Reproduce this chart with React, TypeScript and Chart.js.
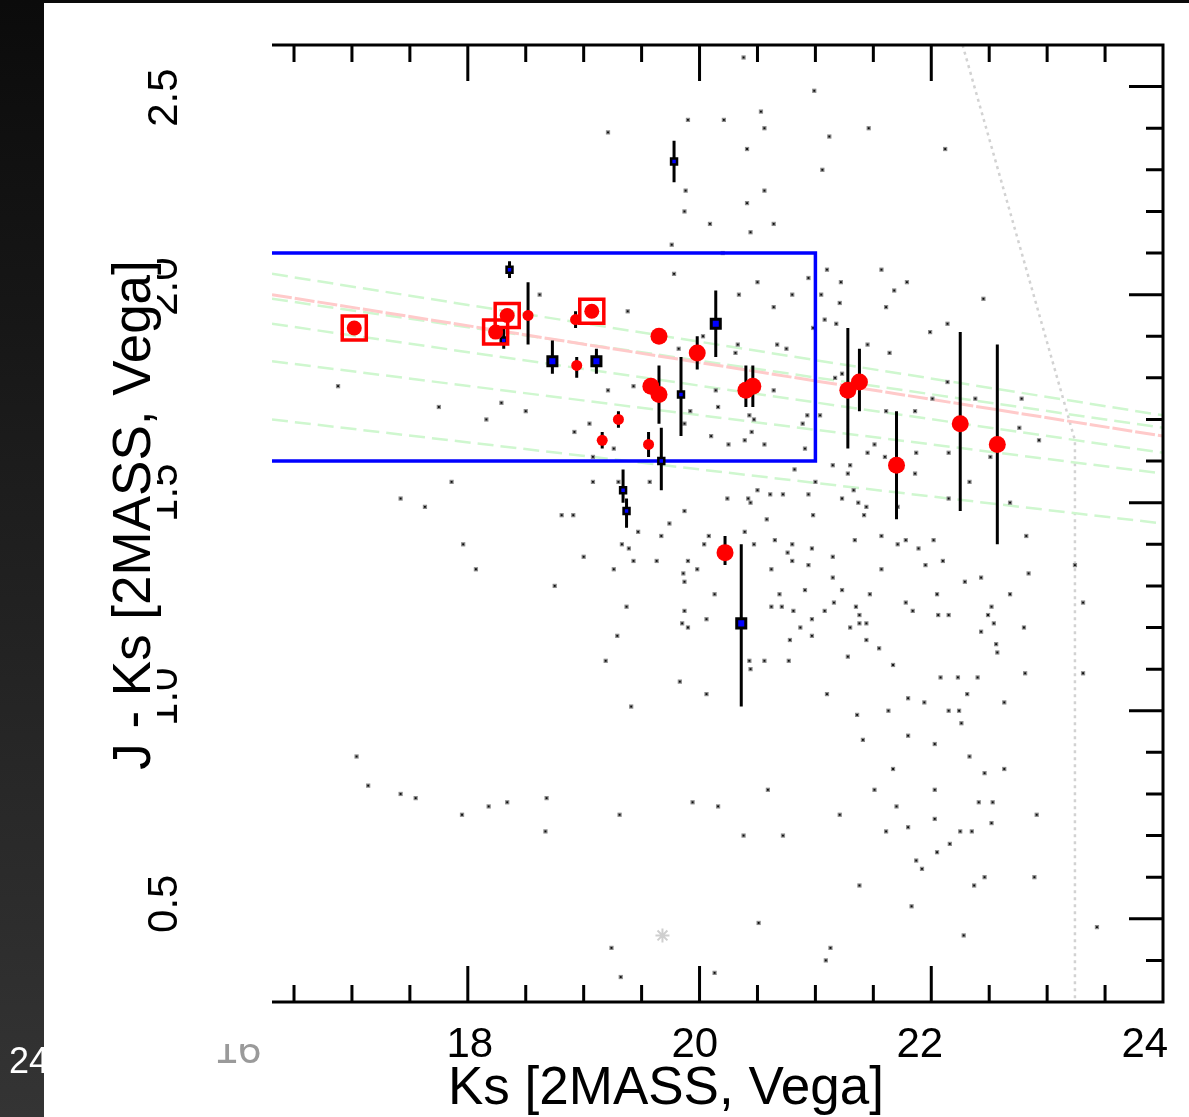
import React, { useEffect, useRef } from "react";
import { Chart, registerables } from "chart.js";

Chart.register(...registerables);

// ---------- axes ----------
const X_MIN = 16.31;
const X_MAX = 24.0;
const Y_MIN = 0.3;
const Y_MAX = 2.6;
const xTickLabels = ["18", "20", "22", "24"];
const yTickLabels = ["2.5", "2.0", "1.5", "1.0", "0.5"];
const xTitle = "Ks [2MASS, Vega]";
const yTitle = "J - Ks [2MASS, Vega]";

// ---------- field sources (Ks, J-Ks) ----------
const fieldStars: [number, number][] = [
  [19.9, 2.42], [19.21, 2.39], [19.88, 2.25], [19.87, 2.2], [20.09, 2.17], [19.76, 2.12],
  [19.78, 2.05], [18.62, 2.0], [19.38, 1.96], [20.03, 1.9], [19.82, 1.87], [16.88, 1.78],
  [17.75, 1.73], [18.29, 1.74], [18.5, 1.72], [18.16, 1.7], [19.21, 1.77], [19.43, 1.78],
  [20.14, 1.77], [20.16, 1.73], [19.05, 1.69], [18.92, 1.67], [19.26, 1.63], [19.92, 1.72],
  [19.87, 1.69], [20.1, 1.66], [19.08, 1.61], [20.38, 2.57], [20.99, 2.49], [20.53, 2.44],
  [20.21, 2.42], [20.56, 2.4], [21.46, 2.4], [21.12, 2.38], [20.41, 2.35], [22.12, 2.35],
  [21.06, 2.3], [20.56, 2.25], [20.41, 2.22], [20.64, 2.17], [20.44, 2.15], [20.2, 2.1],
  [21.1, 2.06], [21.57, 2.06], [20.5, 2.03], [21.22, 2.03], [20.94, 2.04], [21.68, 2.01],
  [21.79, 2.03], [20.34, 2.0], [20.8, 2.0], [21.05, 2.0], [20.64, 1.97], [21.21, 1.98],
  [21.61, 1.97], [22.45, 1.99], [21.08, 1.94], [21.18, 1.93], [22.14, 1.93], [20.98, 1.92],
  [21.99, 1.91], [20.33, 1.88], [20.67, 1.88], [20.75, 1.87], [20.31, 1.86], [21.45, 1.88],
  [21.64, 1.86], [21.23, 1.81], [21.17, 1.8], [22.14, 1.79], [20.64, 1.77], [22.01, 1.75],
  [22.38, 1.75], [22.78, 1.75], [21.86, 1.72], [21.61, 1.72], [20.93, 1.71], [21.04, 1.71],
  [20.43, 1.71], [20.47, 1.7], [20.89, 1.69], [20.45, 1.67], [22.76, 1.68], [22.93, 1.65],
  [20.25, 1.64], [20.39, 1.65], [20.56, 1.64], [20.91, 1.63], [21.51, 1.64], [22.15, 1.62],
  [22.51, 1.61], [21.45, 1.62], [21.87, 1.62], [21.6, 1.61], [20.82, 1.58], [21.15, 1.59],
  [21.3, 1.59], [21.28, 1.57], [21.86, 1.57], [21.0, 1.55], [20.24, 1.51], [20.42, 1.51],
  [20.5, 1.53], [20.61, 1.52], [20.72, 1.52], [20.94, 1.52], [21.33, 1.53], [21.23, 1.51],
  [20.44, 1.5], [21.37, 1.5], [21.44, 1.49], [21.42, 1.47], [21.71, 1.49], [22.15, 1.51],
  [22.33, 1.55], [22.68, 1.5], [20.98, 1.47], [20.58, 1.46], [20.39, 1.43], [20.65, 1.41],
  [20.47, 1.4], [20.8, 1.4], [20.76, 1.38], [20.8, 1.36], [20.97, 1.39], [20.94, 1.35],
  [21.15, 1.37], [20.62, 1.34], [21.34, 1.41], [21.57, 1.42], [21.71, 1.4], [21.78, 1.41],
  [22.02, 1.41], [21.89, 1.39], [21.95, 1.35], [22.1, 1.36], [21.57, 1.34], [22.82, 1.42],
  [23.24, 1.35], [22.84, 1.33], [21.15, 1.32], [22.29, 1.31], [22.43, 1.32], [20.91, 1.29],
  [21.23, 1.29], [20.69, 1.28], [21.47, 1.28], [22.05, 1.28], [22.68, 1.28], [23.31, 1.26],
  [20.62, 1.25], [20.71, 1.25], [20.81, 1.24], [21.08, 1.24], [21.16, 1.26], [21.35, 1.25],
  [21.78, 1.26], [21.84, 1.24], [22.06, 1.23], [22.15, 1.23], [22.52, 1.25], [22.49, 1.23],
  [21.38, 1.23], [20.97, 1.22], [20.87, 1.2], [21.3, 1.2], [21.38, 1.21], [21.44, 1.21],
  [22.54, 1.21], [22.8, 1.2], [22.43, 1.19], [20.78, 1.17], [20.97, 1.18], [21.44, 1.17],
  [22.56, 1.16], [22.57, 1.14], [21.55, 1.15], [21.28, 1.13], [20.43, 1.12], [20.44, 1.1],
  [20.56, 1.12], [20.77, 1.12], [21.67, 1.11], [22.81, 1.09], [23.31, 1.09], [22.08, 1.08],
  [22.23, 1.08], [22.4, 1.08], [21.1, 1.04], [22.31, 1.04], [21.8, 1.03], [21.94, 1.02],
  [22.63, 1.02], [21.36, 0.99], [21.63, 1.0], [22.15, 1.0], [22.24, 1.0], [22.26, 0.97],
  [21.8, 0.94], [21.41, 0.93], [22.03, 0.92], [22.33, 0.89], [21.67, 0.86], [22.63, 0.86],
  [22.46, 0.85], [20.59, 0.81], [21.51, 0.81], [22.03, 0.81], [22.41, 0.78], [22.53, 0.78],
  [20.16, 0.77], [21.7, 0.77], [21.21, 0.75], [22.03, 0.74], [22.52, 0.73], [22.91, 0.75],
  [21.8, 0.72], [21.61, 0.71], [22.25, 0.71], [22.35, 0.71], [20.38, 0.7], [20.72, 0.7],
  [22.16, 0.68], [22.05, 0.66], [21.87, 0.64], [21.92, 0.62], [22.46, 0.6], [22.89, 0.6],
  [21.38, 0.58], [22.37, 0.58], [21.83, 0.53], [20.51, 0.49], [23.43, 0.48], [22.28, 0.46],
  [21.13, 0.43], [21.09, 0.4], [20.13, 0.37], [17.86, 1.55], [17.42, 1.51], [17.63, 1.49],
  [17.96, 1.4], [18.07, 1.34], [18.75, 1.3], [19.08, 1.55], [19.3, 1.55], [19.57, 1.55],
  [18.81, 1.47], [18.91, 1.47], [19.87, 1.48], [19.74, 1.45], [19.47, 1.43], [19.67, 1.42],
  [20.08, 1.42], [20.04, 1.4], [19.33, 1.4], [19.39, 1.39], [19.0, 1.37], [19.43, 1.36],
  [19.63, 1.36], [19.9, 1.36], [19.26, 1.34], [19.86, 1.33], [19.98, 1.34], [19.87, 1.31],
  [20.13, 1.28], [19.37, 1.25], [19.87, 1.24], [20.06, 1.22], [19.85, 1.21], [19.9, 1.2],
  [19.29, 1.18], [19.19, 1.12], [19.83, 1.07], [20.06, 1.04], [19.41, 1.01], [17.04, 0.89],
  [17.14, 0.82], [17.42, 0.8], [17.55, 0.79], [17.95, 0.75], [18.18, 0.77], [18.34, 0.78],
  [18.68, 0.79], [18.67, 0.71], [19.31, 0.75], [19.94, 0.78], [19.24, 0.43], [19.32, 0.36],
];
const ghostKs = [19.68];
const ghostJK = [0.46];

// ---------- candidates ----------
const redKs = [19.65, 19.58, 19.65, 19.98, 20.4, 20.46, 20.22, 21.28, 21.38, 21.7, 22.25, 22.57];
const redJK = [1.9, 1.78, 1.76, 1.86, 1.77, 1.78, 1.38, 1.77, 1.79, 1.59, 1.69, 1.64];
const redSmallKs = [18.52, 18.93, 18.94, 19.3, 19.16, 19.56];
const redSmallJK = [1.95, 1.94, 1.83, 1.7, 1.65, 1.64];
const boxedKs = [17.02, 18.24, 18.34, 19.07];
const boxedJK = [1.92, 1.91, 1.95, 1.96];
const blueKs = [18.73, 19.11, 20.14, 20.36];
const blueJK = [1.84, 1.84, 1.93, 1.21];
const blueSmallKs = [18.36, 18.31, 19.84, 19.67, 19.34, 19.37, 19.78];
const blueSmallJK = [2.06, 1.89, 1.76, 1.6, 1.53, 1.48, 2.32];

// error bars: [Ks, J-Ks low, J-Ks high]
const errorBars: [number, number, number][] = [
  [18.52, 1.88, 2.03], [18.93, 1.92, 1.96], [18.94, 1.8, 1.85], [19.3, 1.68, 1.72],
  [19.16, 1.63, 1.67], [19.56, 1.61, 1.67], [19.65, 1.69, 1.83], [19.98, 1.82, 1.9],
  [20.4, 1.73, 1.83], [20.46, 1.73, 1.83], [20.22, 1.35, 1.42], [21.28, 1.63, 1.92],
  [21.38, 1.72, 1.87], [21.7, 1.46, 1.72], [22.25, 1.48, 1.91], [22.57, 1.4, 1.88],
  [18.36, 2.04, 2.08], [18.31, 1.87, 1.92], [18.73, 1.81, 1.89], [19.11, 1.81, 1.87],
  [19.84, 1.66, 1.85], [20.14, 1.85, 2.01], [19.67, 1.53, 1.68], [19.34, 1.5, 1.58],
  [19.37, 1.44, 1.51], [19.78, 2.27, 2.37], [20.36, 1.01, 1.4],
];

// ---------- selection box & model lines ----------
const boxKs = [16.0, 21.0, 21.0, 16.0];
const boxJK = [2.1, 2.1, 1.6, 1.6];
const lineKs = [16.31, 24.0];
const pinkJK = [2.0, 1.66];
const greenJK: number[][] = [
  [2.05, 1.71],
  [1.99, 1.68],
  [1.93, 1.62],
  [1.84, 1.57],
  [1.7, 1.45],
];
const limitKs = [22.27, 23.24, 23.24];
const limitJK = [2.6, 1.65, 0.3];

const FONT = '"Liberation Sans", Arial, Helvetica, sans-serif';

const pts = (xs: number[], ys: number[]) => xs.map((x, i) => ({ x, y: ys[i] }));

const decorPlugin = {
  id: "decor",
  beforeDraw(chart: any) {
    const { ctx, width, height } = chart;
    ctx.save();
    ctx.fillStyle = "#ffffff";
    ctx.fillRect(0, 0, width, height);
    const g = ctx.createLinearGradient(0, 0, 0, height);
    g.addColorStop(0, "#0b0b0b");
    g.addColorStop(1, "#343434");
    ctx.fillStyle = g;
    ctx.fillRect(0, 0, 44, height);
    ctx.fillStyle = "#0a0a0a";
    ctx.fillRect(44, 0, width - 44, 3);
    ctx.beginPath();
    ctx.rect(0, 0, 44, height);
    ctx.clip();
    ctx.fillStyle = "#ffffff";
    ctx.font = `36px ${FONT}`;
    ctx.textAlign = "left";
    ctx.textBaseline = "alphabetic";
    ctx.fillText("24", 9, 1073);
    ctx.restore();
  },
  afterDatasetsDraw(chart: any) {
    const { ctx, chartArea } = chart;
    const xs = chart.scales.x;
    const ys = chart.scales.y;
    const { left, right, top, bottom } = chartArea;
    ctx.save();
    ctx.strokeStyle = "#000";
    ctx.lineWidth = 3;
    ctx.lineCap = "butt";
    ctx.beginPath();
    ctx.moveTo(left, top);
    ctx.lineTo(right + 1.5, top);
    ctx.moveTo(right, top);
    ctx.lineTo(right, bottom);
    ctx.moveTo(left, bottom);
    ctx.lineTo(right + 1.5, bottom);
    for (let i = 0; i < 15; i++) {
      const v = 16.5 + i * 0.5;
      const px = xs.getPixelForValue(v);
      const major = Math.abs(v / 2 - Math.round(v / 2)) < 1e-6;
      const len = major ? 36 : 17;
      ctx.moveTo(px, top);
      ctx.lineTo(px, top + len);
      ctx.moveTo(px, bottom);
      ctx.lineTo(px, bottom - len);
    }
    for (let i = 0; i < 22; i++) {
      const v = 0.4 + i * 0.1;
      const py = ys.getPixelForValue(v);
      const major = Math.abs(v * 2 - Math.round(v * 2)) < 1e-6;
      const len = major ? 34 : 17;
      ctx.moveTo(right, py);
      ctx.lineTo(right - len, py);
    }
    ctx.stroke();
    ctx.restore();
  },
  afterDraw(chart: any) {
    const { ctx, chartArea } = chart;
    const xs = chart.scales.x;
    const ys = chart.scales.y;
    ctx.save();
    ctx.fillStyle = "#000";
    ctx.textAlign = "center";
    ctx.textBaseline = "alphabetic";
    ctx.font = `42px ${FONT}`;
    // x tick labels
    xTickLabels.forEach((t) => {
      const v = parseFloat(t);
      const px = xs.getPixelForValue(18 + (v - 18) * 0.971) + 2;
      ctx.fillText(t, px, chartArea.bottom + 55);
    });
    // faint clipped "16"
    ctx.save();
    ctx.beginPath();
    ctx.rect(44, chartArea.bottom + 42, 228, 40);
    ctx.clip();
    ctx.fillStyle = "#9a9a9a";
    ctx.fillText("16", 238, chartArea.bottom + 61);
    ctx.restore();
    // y tick labels (rotated)
    const nudge: Record<string, number> = { "2.5": 11, "2.0": -8, "1.5": -10, "1.0": -14, "0.5": -15 };
    yTickLabels.forEach((t) => {
      const py = ys.getPixelForValue(parseFloat(t)) + nudge[t];
      ctx.save();
      ctx.translate(177, py);
      ctx.rotate(-Math.PI / 2);
      ctx.fillText(t, 0, 0);
      ctx.restore();
    });
    // y title with its white backing (hides part of the tick labels)
    ctx.fillStyle = "#fff";
    ctx.fillRect(95, 250, 62, 530);
    ctx.fillStyle = "#000";
    ctx.font = `53px ${FONT}`;
    ctx.save();
    ctx.translate(150, 515);
    ctx.rotate(-Math.PI / 2);
    ctx.fillText(yTitle, 0, 0);
    ctx.restore();
    // x title
    ctx.fillText(xTitle, chartArea.left + 394, chartArea.bottom + 102);
    ctx.restore();
  },
};

export default function App() {
  const ref = useRef<HTMLCanvasElement | null>(null);
  useEffect(() => {
    if (!ref.current) return;
    const errData: any[] = [];
    errorBars.forEach(([x, lo, hi]) => {
      errData.push({ x, y: lo }, { x, y: hi }, { x, y: null });
    });
    const lineDs = (data: any[], color: string, width: number, dash: number[] = []) => ({
      data,
      showLine: true,
      pointRadius: 0,
      borderColor: color,
      borderWidth: width,
      borderDash: dash,
      fill: false,
      tension: 0,
      spanGaps: false,
    });
    const fieldData = fieldStars.map(([x, y]) => ({ x, y }));
    const chart = new Chart(ref.current, {
      type: "scatter",
      data: {
        datasets: [
          {
            data: pts(boxedKs, boxedJK),
            pointStyle: "rect",
            pointRadius: 17,
            backgroundColor: "rgba(0,0,0,0)",
            borderColor: "#ff0000",
            borderWidth: 3.5,
          },
          {
            data: pts(boxedKs, boxedJK),
            pointStyle: "circle",
            pointRadius: 7.5,
            backgroundColor: "#ff0000",
            borderWidth: 0,
          },
          {
            data: pts(redKs, redJK),
            pointStyle: "circle",
            pointRadius: 8.5,
            backgroundColor: "#ff0000",
            borderWidth: 0,
          },
          {
            data: pts(redSmallKs, redSmallJK),
            pointStyle: "circle",
            pointRadius: 5.5,
            backgroundColor: "#ff0000",
            borderWidth: 0,
          },
          {
            data: pts(blueKs, blueJK),
            pointStyle: "rect",
            pointRadius: 6.4,
            backgroundColor: "#0000ff",
            borderColor: "#000",
            borderWidth: 3,
          },
          {
            data: pts(blueSmallKs, blueSmallJK),
            pointStyle: "rect",
            pointRadius: 4.2,
            backgroundColor: "#0000ff",
            borderColor: "#000",
            borderWidth: 2.5,
          },
          lineDs(errData, "#000", 3),
          lineDs(pts(boxKs, boxJK), "#0000ff", 3.5),
          {
            data: fieldData,
            pointStyle: "rect",
            pointRadius: 1.3,
            backgroundColor: "#0a0a0a",
            borderWidth: 0,
          },
          {
            data: fieldData,
            pointStyle: "rect",
            pointRadius: 3.0,
            backgroundColor: "#8c8c8c",
            borderWidth: 0,
          },
          lineDs(pts(lineKs, pinkJK), "#ffcaca", 3, [20, 3]),
          ...greenJK.map((g) => lineDs(pts(lineKs, g), "#cff7cf", 2.5, [16, 7])),
          lineDs(pts(limitKs, limitJK), "#d2d2d2", 2.5, [3, 4]),
          {
            data: pts(ghostKs, ghostJK),
            pointStyle: "star",
            pointRadius: 7,
            backgroundColor: "rgba(0,0,0,0)",
            borderColor: "#cfcfcf",
            borderWidth: 2,
          },
        ] as any,
      },
      options: {
        animation: false,
        responsive: false,
        devicePixelRatio: 1,
        events: [],
        layout: { padding: { left: 272, right: 26, top: 45, bottom: 115 } },
        plugins: { legend: { display: false }, tooltip: { enabled: false } },
        scales: {
          x: { type: "linear", min: X_MIN, max: X_MAX, display: false },
          y: { type: "linear", min: Y_MIN, max: Y_MAX, display: false },
        },
      },
      plugins: [decorPlugin],
    });
    return () => chart.destroy();
  }, []);
  return (
    <div style={{ position: "absolute", left: 0, top: 0, width: 1189, height: 1117 }}>
      <canvas ref={ref} width={1189} height={1117} style={{ width: 1189, height: 1117, display: "block" }} />
    </div>
  );
}
